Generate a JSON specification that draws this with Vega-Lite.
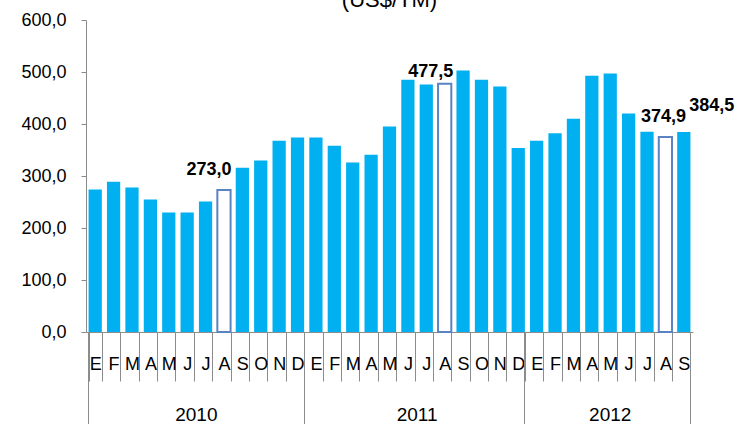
{
  "$schema": "https://vega.github.io/schema/vega-lite/v6.json",
  "autosize": {"type": "none"},
  "padding": {"left": 86, "top": 20, "right": 45, "bottom": 92},
  "width": 607,
  "height": 312,
  "background": "white",
  "title": {"text": "(US$/TM)", "fontSize": 22, "font": "Liberation Sans", "fontWeight": "normal", "color": "black", "anchor": "middle", "baseline": "alphabetic", "offset": -18},
  "config": {
    "view": {"stroke": null},
    "locale": {"number": {"decimal": ",", "thousands": ".", "grouping": [3], "currency": ["$", ""]}},
    "axis": {"labelFont": "Liberation Sans", "labelColor": "black", "grid": false, "domainColor": "#8c8c8c", "tickColor": "#8c8c8c", "title": null}
  },
  "data": {"values": [
    {"key": "2010-01-E", "value": 274},
    {"key": "2010-02-F", "value": 289},
    {"key": "2010-03-M", "value": 278},
    {"key": "2010-04-A", "value": 255},
    {"key": "2010-05-M", "value": 230},
    {"key": "2010-06-J", "value": 230},
    {"key": "2010-07-J", "value": 251},
    {"key": "2010-08-A", "value": 273.0},
    {"key": "2010-09-S", "value": 316},
    {"key": "2010-10-O", "value": 330},
    {"key": "2010-11-N", "value": 368},
    {"key": "2010-12-D", "value": 374},
    {"key": "2011-01-E", "value": 374},
    {"key": "2011-02-F", "value": 358},
    {"key": "2011-03-M", "value": 326},
    {"key": "2011-04-A", "value": 341},
    {"key": "2011-05-M", "value": 395},
    {"key": "2011-06-J", "value": 485},
    {"key": "2011-07-J", "value": 476},
    {"key": "2011-08-A", "value": 477.5},
    {"key": "2011-09-S", "value": 503},
    {"key": "2011-10-O", "value": 485},
    {"key": "2011-11-N", "value": 472},
    {"key": "2011-12-D", "value": 354},
    {"key": "2012-01-E", "value": 368},
    {"key": "2012-02-F", "value": 382},
    {"key": "2012-03-M", "value": 410},
    {"key": "2012-04-A", "value": 493},
    {"key": "2012-05-M", "value": 497},
    {"key": "2012-06-J", "value": 420},
    {"key": "2012-07-J", "value": 385},
    {"key": "2012-08-A", "value": 374.9},
    {"key": "2012-09-S", "value": 384.5}
  ]},
  "resolve": {"axis": {"x": "independent", "y": "independent"}},
  "layer": [
    {
      "mark": {"type": "bar", "strokeWidth": 2},
      "encoding": {
        "x": {
          "field": "key", "type": "nominal", "sort": null,
          "scale": {
            "domain": ["2010-01-E","2010-02-F","2010-03-M","2010-04-A","2010-05-M","2010-06-J","2010-07-J","2010-08-A","2010-09-S","2010-10-O","2010-11-N","2010-12-D","2011-01-E","2011-02-F","2011-03-M","2011-04-A","2011-05-M","2011-06-J","2011-07-J","2011-08-A","2011-09-S","2011-10-O","2011-11-N","2011-12-D","2012-01-E","2012-02-F","2012-03-M","2012-04-A","2012-05-M","2012-06-J","2012-07-J","2012-08-A","2012-09-S"],
            "paddingInner": 0.28, "paddingOuter": 0.14
          },
          "axis": {
            "orient": "bottom", "tickBand": "extent", "tickSize": 49, "labelPadding": -16.5,
            "labelBaseline": "middle", "labelFontSize": 18, "labelAngle": 0,
            "labelExpr": "split(datum.value, '-')[2]", "labelOverlap": false, "labelBound": false,
            "domain": true
          }
        },
        "y": {
          "field": "value", "type": "quantitative",
          "scale": {"domain": [0, 600], "nice": false},
          "axis": {"orient": "left", "values": [0, 100, 200, 300, 400, 500, 600], "format": ".1f", "labelFontSize": 18, "tickSize": 5, "labelPadding": 15}
        },
        "fill": {"condition": {"test": "indexof(datum.key, '-08-') >= 0", "value": "white"}, "value": "#00B0F0"},
        "stroke": {"condition": {"test": "indexof(datum.key, '-08-') >= 0", "value": "#5B83C3"}, "value": "transparent"}
      }
    },
    {
      "transform": [{"filter": "datum.key == '2010-08-A'"}],
      "mark": {"type": "text", "font": "Liberation Sans", "fontWeight": "bold", "fontSize": 18, "color": "black", "baseline": "alphabetic", "align": "center", "dx": -15, "dy": -15},
      "encoding": {
        "x": {
          "field": "key", "type": "nominal", "sort": null,
          "axis": {
            "orient": "bottom", "values": ["2010-12-D", "2011-12-D", "2012-09-S"], "bandPosition": 1,
            "tickSize": 93, "labels": false, "domain": false
          }
        },
        "y": {"field": "value", "type": "quantitative", "axis": null},
        "text": {"field": "value", "type": "quantitative", "format": ".1f"}
      }
    },
    {
      "transform": [{"filter": "datum.key == '2012-08-A'"}],
      "mark": {"type": "text", "font": "Liberation Sans", "fontWeight": "bold", "fontSize": 18, "color": "black", "baseline": "alphabetic", "align": "center", "dx": -2, "dy": -15},
      "encoding": {
        "x": {
          "field": "key", "type": "nominal", "sort": null,
          "axis": {
            "orient": "bottom", "values": ["2010-01-E", "2010-06-J", "2011-06-J", "2012-05-M"], "bandPosition": 0,
            "tickSize": 93, "domain": false,
            "tickOpacity": {"condition": {"test": "datum.value == '2010-01-E'", "value": 1}, "value": 0},
            "labelOffset": {"condition": {"test": "datum.value == '2012-05-M'", "value": 0}, "value": 9.2},
            "labelExpr": "datum.value == '2010-01-E' ? '' : slice(datum.value, 0, 4)",
            "labelFontSize": 19, "labelBaseline": "middle", "labelPadding": -11, "labelAngle": 0,
            "labelOverlap": false, "labelBound": false
          }
        },
        "y": {"field": "value", "type": "quantitative", "axis": null},
        "text": {"field": "value", "type": "quantitative", "format": ".1f"}
      }
    },
    {
      "transform": [{"filter": "datum.key == '2011-08-A'"}],
      "mark": {"type": "text", "font": "Liberation Sans", "fontWeight": "bold", "fontSize": 18, "color": "black", "baseline": "alphabetic", "align": "center", "dx": -14, "dy": -7},
      "encoding": {
        "x": {"field": "key", "type": "nominal", "sort": null, "axis": null},
        "y": {"field": "value", "type": "quantitative", "axis": null},
        "text": {"field": "value", "type": "quantitative", "format": ".1f"}
      }
    },
    {
      "transform": [{"filter": "datum.key == '2012-09-S'"}],
      "mark": {"type": "text", "font": "Liberation Sans", "fontWeight": "bold", "fontSize": 18, "color": "black", "baseline": "alphabetic", "align": "center", "dx": 28, "dy": -21},
      "encoding": {
        "x": {"field": "key", "type": "nominal", "sort": null, "axis": null},
        "y": {"field": "value", "type": "quantitative", "axis": null},
        "text": {"field": "value", "type": "quantitative", "format": ".1f"}
      }
    }
  ]
}
